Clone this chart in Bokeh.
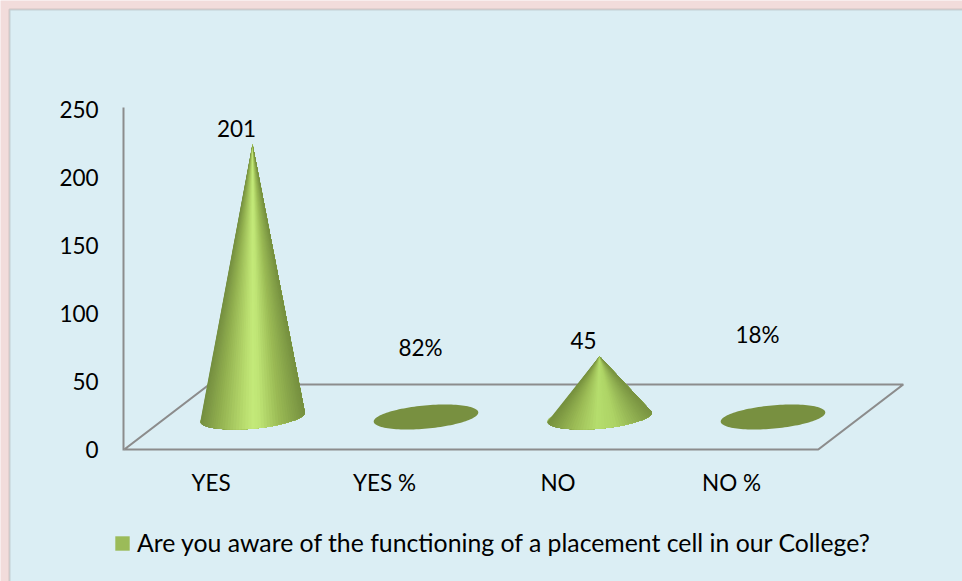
import numpy as np
from bokeh.embed import file_html
from bokeh.resources import INLINE
from bokeh.plotting import figure
from bokeh.models import BoxAnnotation, FixedTicker, GlobalInlineStyleSheet, Legend, LegendItem, Range1d
from bokeh.core.properties import value

categories = ["YES", "YES %", "NO", "NO %"]
values = [201, 0.82, 45, 0.18]
data_labels = ["201", "82%", "45", "18%"]
y_ticks = [0, 50, 100, 150, 200, 250]
legend_label = "Are you aware of the functioning of a placement cell in our College?"

W, H = 962, 581
FONT = "Lato"
FS = "22.5px"
LEGEND_FS = "24.8px"
GRAY = "#8c8c8c"
BLUE = "#dbeef4"
PINK = "#f2dcdb"

CAT_PX = 173.5
VAL_PX = 340 / 250
ZERO_X_PX, ZERO_Y_PX = 210.5, 449  # where category 0 and value 0 sit on the page

x_start = -ZERO_X_PX / CAT_PX
y_start = -(H - ZERO_Y_PX) / VAL_PX

p = figure(width=W, height=H, output_backend="svg", toolbar_location=None,
           x_range=Range1d(x_start, x_start + W / CAT_PX),
           y_range=Range1d(y_start, y_start + H / VAL_PX),
           min_border_left=0, min_border_right=0, min_border_top=0, min_border_bottom=0,
           border_fill_color=PINK, background_fill_color=PINK, outline_line_color=None)
p.stylesheets = [GlobalInlineStyleSheet(css="html, body { margin: 0; overflow: hidden; }")]

# screen y of a box counts up from the bottom of the frame
p.add_layout(BoxAnnotation(left=9, right=W + 40, top=H - 9, bottom=-40,
                           left_units="screen", right_units="screen",
                           top_units="screen", bottom_units="screen",
                           fill_color=BLUE, fill_alpha=1, line_color="#8f8f8f",
                           line_width=2, level="underlay"))

p.grid.visible = False
for ax in (p.xaxis[0], p.yaxis[0]):
    ax.major_tick_line_color = None
    ax.minor_tick_line_color = None
    ax.major_label_text_font = FONT
    ax.major_label_text_font_size = FS
    ax.major_label_text_color = "#000000"

n = len(categories)
left_edge = -0.5

p.yaxis[0].ticker = FixedTicker(ticks=y_ticks)
p.yaxis[0].axis_line_color = GRAY
p.yaxis[0].axis_line_width = 2
p.yaxis[0].major_label_standoff = 19
p.yaxis[0].fixed_location = left_edge - 0.7 / CAT_PX
p.yaxis[0].bounds = (-1 / VAL_PX, 251.5)

p.xaxis[0].ticker = FixedTicker(ticks=list(range(n)))
p.xaxis[0].major_label_overrides = {i: c for i, c in enumerate(categories)}
p.xaxis[0].axis_line_color = None
p.xaxis[0].major_label_standoff = 13
p.xaxis[0].fixed_location = 0

# floor of the 3-D chart
depth_x, depth_y = 85 / CAT_PX, 65 / VAL_PX
fx = [left_edge, n - 0.5, n - 0.5 + depth_x, left_edge + depth_x, left_edge]
fy = [0, 0, depth_y, depth_y, 0]
p.line(fx, fy, line_color=GRAY, line_width=2.2)

# cones: base ellipse sits on the floor, height comes from the value
cone_dx = 41.5 / CAT_PX
floor_y = 32.5 / VAL_PX
a_px, b_px, phi = 52.5, 11.6, np.radians(5.2)


def ellipse(t):
    xp = a_px * np.cos(t) * np.cos(phi) - b_px * np.sin(t) * np.sin(phi)
    yp = a_px * np.cos(t) * np.sin(phi) + b_px * np.sin(t) * np.cos(phi)
    return xp, yp


def lerp_color(stops, u):
    xs = [s[0] for s in stops]
    r = np.interp(u, xs, [s[1][0] for s in stops])
    g = np.interp(u, xs, [s[1][1] for s in stops])
    b = np.interp(u, xs, [s[1][2] for s in stops])
    return "#%02x%02x%02x" % (int(r), int(g), int(b))


shade = [(-1.0, (116, 142, 64)), (-0.65, (146, 176, 80)), (-0.2, (182, 218, 108)),
         (0.0, (196, 234, 122)), (0.12, (192, 230, 118)), (0.5, (156, 188, 86)),
         (1.0, (118, 144, 64))]
shade_low = [(-1.0, (118, 144, 62)), (-0.5, (156, 188, 86)), (-0.05, (182, 222, 110)),
             (0.3, (174, 212, 102)), (1.0, (122, 148, 66))]

flat_color = "#789040"
ex, ey, ec, fan_xs, fan_ys, fan_c = [], [], [], [], [], []
T_ALL = np.linspace(0, 2 * np.pi, 121)
t_left = np.pi + np.arctan2(b_px * np.sin(phi), a_px * np.cos(phi))
t_right = 2 * np.pi + np.arctan2(b_px * np.sin(phi), a_px * np.cos(phi))

for i, v in enumerate(values):
    cx = i + cone_dx
    xp, yp = ellipse(T_ALL)
    ex.append(list(cx + xp / CAT_PX))
    ey.append(list(floor_y + yp / VAL_PX))
    ec.append(flat_color if v < 1 else "#a0c05c")
    if v < 1:
        continue
    stops = shade if v > 100 else shade_low
    T = np.linspace(t_left, t_right, 53)
    xp, yp = ellipse(T)
    # painter's fan: each piece runs to the right edge, so no seams show
    for k in range(len(T) - 1):
        u = (xp[k] + xp[k + 1]) / 2 / a_px
        fan_xs.append([cx] + list(cx + xp[k:] / CAT_PX))
        fan_ys.append([floor_y + v - 0.5 / VAL_PX] + list(floor_y + yp[k:] / VAL_PX))
        fan_c.append(lerp_color(stops, u))

p.patches(ex, ey, fill_color=ec, line_color=None)
p.patches(fan_xs, fan_ys, fill_color=fan_c, line_color=None)

# data labels
label_dx = [25.5, 36, 25.5, 26]
label_dy = [-48, -101, -48, -115]
p.text(x=list(range(n)), y=values, text=data_labels, x_offset=label_dx, y_offset=label_dy,
       text_align="center", text_baseline="middle", text_color="#000000",
       text_font=value(FONT), text_font_size=FS)

# legend
key = p.rect(x=[-5], y=[-50], width=[0.1], height=[1], fill_color="#9bbb59", line_color=None)
legend = Legend(items=[LegendItem(label=legend_label, renderers=[key])],
                location=(113, 24), orientation="horizontal",
                background_fill_alpha=0, border_line_color=None,
                glyph_width=18, glyph_height=18, label_standoff=6, margin=0, padding=0,
                label_text_font=FONT, label_text_font_size=LEGEND_FS, label_text_color="#000000")
p.add_layout(legend, "center")

open("out.html", "w").write(file_html(p, INLINE))
